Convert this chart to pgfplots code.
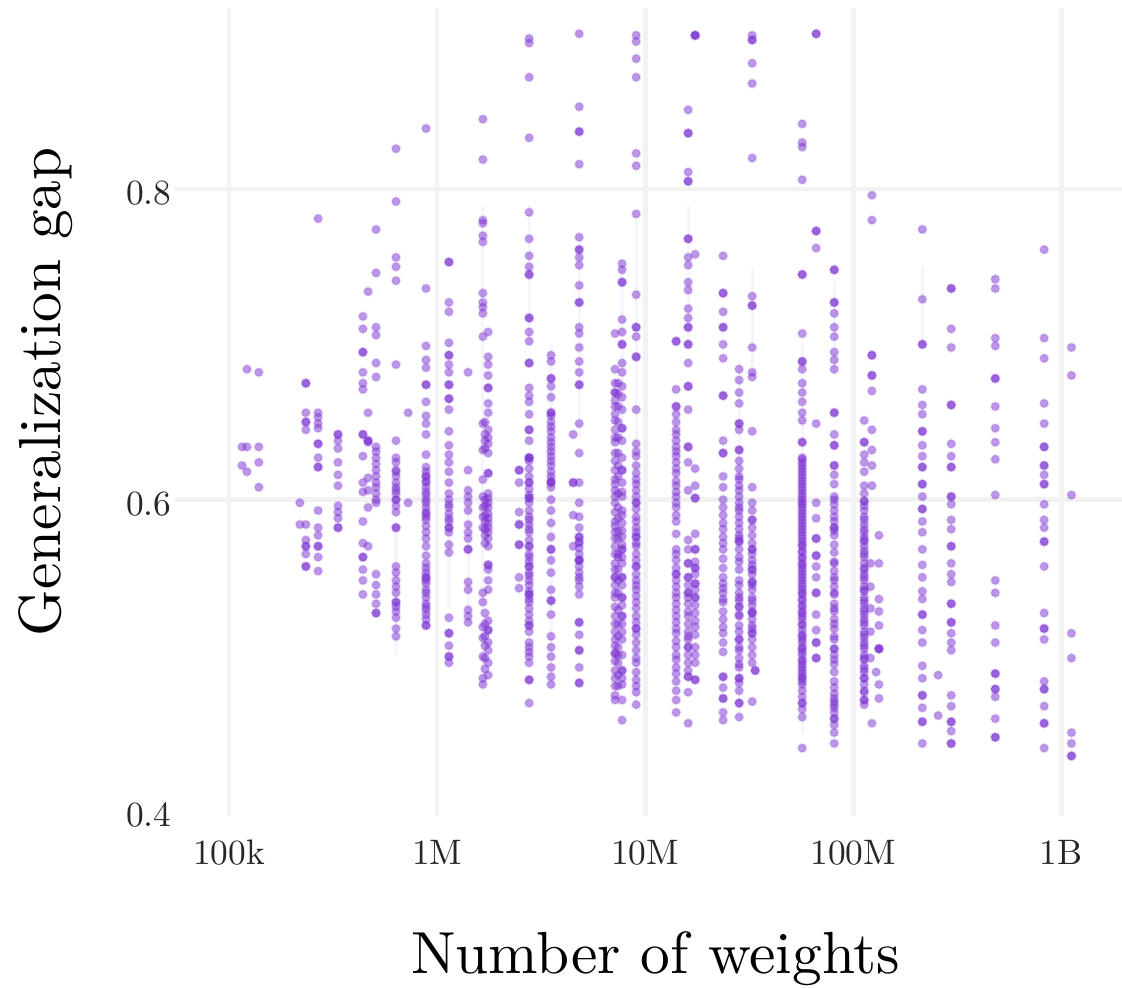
\documentclass[border=0pt]{standalone}
\usepackage{pgfplots}
\pgfplotsset{compat=1.18}
\definecolor{pt}{RGB}{122,48,208}
\definecolor{gr}{RGB}{242,242,242}
\pgfplotsset{pts/.style={only marks,mark=*,mark size=2.1pt,mark options={fill=pt,fill opacity=.5,draw=pt,draw opacity=.14,line width=1pt}}}
\begin{document}
\begin{tikzpicture}
\useasboundingbox (-87.5pt,-85.5pt) rectangle (473.5pt,408pt);
\begin{axis}[
  at={(0pt,0pt)},anchor=south west,scale only axis,
  width=473.5pt,height=404pt,
  xmode=log,log basis x=10,
  xmin=5.50e4,xmax=1.96e9,ymin=0.3963,ymax=0.9166,
  xtick={1e5,1e6,1e7,1e8,1e9},xticklabels={100k,1M,10M,100M,1B},
  ytick={0.6,0.8},yticklabels={0.6,0.8},
  extra y ticks={0.4},extra y tick labels={0.4},extra y tick style={grid=none},
  minor tick num=0,
  grid=major,major grid style={line width=2.4pt,color=gr},
  axis line style={draw=none},tick style={draw=none},
  xticklabel style={scale=1.77,color=black!85,yshift=-3.3pt},
  yticklabel style={scale=1.77,color=black!85,xshift=2.5pt,yshift=-1.2pt},
  xlabel={Number of weights},ylabel={Generalization gap},
  every axis x label/.style={at={(axis description cs:0.5075,-0.176)},anchor=center,scale=2.97},
  every axis y label/.style={at={(axis description cs:-0.137,0.525)},anchor=center,rotate=90,scale=2.97},
]
\addplot[pt,opacity=.05,line width=1.6pt,unbounded coords=jump] coordinates {
(4.82e6,.77)(4.82e6,.64)(4.82e6,nan)(2.77e6,.79)(2.77e6,.70)(2.77e6,nan)(7.75e6,.75)(7.75e6,.65)(7.75e6,nan)
(1.61e7,.79)(1.61e7,.70)(1.61e7,nan)(3.27e7,.75)(3.27e7,.68)(3.27e7,nan)(8.11e7,.74)(8.11e7,.68)(8.11e7,nan)
(2.15e8,.75)(2.15e8,.70)(2.15e8,nan)(1.41e6,.61)(1.41e6,.52)(1.41e6,nan)(6.35e5,.58)(6.35e5,.50)(6.35e5,nan)
(1.14e6,.58)(1.14e6,.53)(1.14e6,nan)(5.69e7,.70)(5.69e7,.45)(5.69e7,nan)(9.06e6,.78)(9.06e6,.47)(9.06e6,nan)
(3.53e6,.70)(3.53e6,.48)(3.53e6,nan)(2.83e7,.69)(2.83e7,.46)(2.83e7,nan)(1.66e6,.79)(1.66e6,.48)(1.66e6,nan)
};
\addplot[pts] coordinates {
(3.53e6,.654)(3.53e6,.650)(3.53e6,.644)(3.53e6,.637)(3.53e6,.631)(3.53e6,.625)(3.53e6,.618)(3.53e6,.612)(3.53e6,.608)
(8.85e5,.612)(8.85e5,.608)(8.85e5,.603)(8.85e5,.598)(8.85e5,.592)(8.85e5,.589)(8.85e5,.583)(8.85e5,.579)(8.85e5,.556)(8.85e5,.553)(8.85e5,.548)(8.85e5,.546)(8.85e5,.540)(8.85e5,.531)(8.85e5,.526)(8.85e5,.523)
(1.14e6,.611)(1.14e6,.597)(1.14e6,.591)(1.14e6,.586)
(1.70e6,.600)(1.70e6,.596)(1.70e6,.590)(1.70e6,.586)(1.70e6,.581)(1.70e6,.577)(1.70e6,.572)(1.70e6,.527)(1.70e6,.520)(1.70e6,.512)(1.70e6,.506)(1.70e6,.498)(1.70e6,.491)(1.70e6,.650)(1.70e6,.642)(1.70e6,.638)(1.70e6,.633)
(2.77e6,.625)(2.77e6,.620)(2.77e6,.615)(2.77e6,.607)(2.77e6,.603)(2.77e6,.593)(2.77e6,.587)(2.77e6,.581)(2.77e6,.574)(2.77e6,.565)(2.77e6,.560)(2.77e6,.551)(2.77e6,.545)(2.77e6,.541)(2.77e6,.536)(2.77e6,.530)(2.77e6,.522)(2.77e6,.515)(2.77e6,.508)(2.77e6,.502)
(4.82e6,.573)(4.82e6,.569)(4.82e6,.565)(4.82e6,.553)(4.82e6,.548)
(7.17e6,.660)(7.17e6,.655)(7.17e6,.645)(7.17e6,.640)(7.17e6,.630)(7.17e6,.625)(7.17e6,.610)(7.17e6,.602)(7.17e6,.592)(7.17e6,.583)(7.17e6,.575)(7.17e6,.565)(7.17e6,.555)(7.17e6,.545)(7.17e6,.540)(7.17e6,.531)(7.17e6,.520)(7.17e6,.510)(7.17e6,.506)(7.17e6,.496)(7.17e6,.485)(7.17e6,.480)
(7.41e6,.675)(7.41e6,.668)(7.41e6,.660)(7.41e6,.650)(7.41e6,.640)(7.41e6,.630)(7.41e6,.622)(7.41e6,.588)(7.41e6,.575)(7.41e6,.565)(7.41e6,.548)(7.41e6,.540)(7.41e6,.520)(7.41e6,.512)(7.41e6,.500)(7.41e6,.487)(7.41e6,.480)
(7.75e6,.605)(7.75e6,.590)(7.75e6,.580)(7.75e6,.571)(7.75e6,.563)(7.75e6,.545)(7.75e6,.532)(7.75e6,.520)(7.75e6,.510)(7.75e6,.500)(7.75e6,.485)
(9.06e6,.628)(9.06e6,.617)(9.06e6,.610)(9.06e6,.602)(9.06e6,.594)(9.06e6,.586)(9.06e6,.579)(9.06e6,.572)(9.06e6,.565)(9.06e6,.552)(9.06e6,.545)(9.06e6,.538)(9.06e6,.530)(9.06e6,.521)(9.06e6,.513)(9.06e6,.503)(9.06e6,.489)(9.06e6,.484)(9.06e6,.480)
(1.41e7,.655)(1.41e7,.642)(1.41e7,.634)(1.41e7,.628)(1.41e7,.620)(1.41e7,.612)(1.41e7,.605)(1.41e7,.598)(1.41e7,.590)(1.41e7,.578)(1.41e7,.565)(1.41e7,.556)(1.41e7,.548)(1.41e7,.540)(1.41e7,.533)(1.41e7,.525)(1.41e7,.517)(1.41e7,.509)(1.41e7,.500)(1.41e7,.492)(1.41e7,.483)(1.41e7,.471)
(1.61e7,.545)(1.61e7,.537)(1.61e7,.528)(1.61e7,.520)(1.61e7,.515)(1.61e7,.510)(1.61e7,.500)(1.61e7,.490)
(1.74e7,.560)(1.74e7,.552)(1.74e7,.542)(1.74e7,.532)(1.74e7,.522)(1.74e7,.513)(1.74e7,.500)(1.74e7,.495)
(2.37e7,.595)(2.37e7,.585)(2.37e7,.572)(2.37e7,.562)(2.37e7,.550)(2.37e7,.543)(2.37e7,.536)(2.37e7,.528)(2.37e7,.518)(2.37e7,.508)
(2.83e7,.625)(2.83e7,.615)(2.83e7,.595)(2.83e7,.575)(2.83e7,.560)(2.83e7,.545)(2.83e7,.535)(2.83e7,.525)(2.83e7,.505)(2.83e7,.494)(2.83e7,.482)
(3.27e7,.565)(3.27e7,.555)(3.27e7,.545)(3.27e7,.535)(3.27e7,.528)(3.27e7,.517)(3.27e7,.505)(3.27e7,.495)
(5.69e7,.622)(5.69e7,.614)(5.69e7,.606)(5.69e7,.598)(5.69e7,.591)(5.69e7,.583)(5.69e7,.575)(5.69e7,.567)(5.69e7,.559)(5.69e7,.552)(5.69e7,.544)(5.69e7,.536)(5.69e7,.528)(5.69e7,.520)(5.69e7,.513)(5.69e7,.505)(5.69e7,.497)(5.69e7,.490)(5.69e7,.483)(5.69e7,.477)(5.69e7,.473)(5.69e7,.465)
(8.11e7,.610)(8.11e7,.600)(8.11e7,.580)(8.11e7,.560)(8.11e7,.550)(8.11e7,.540)(8.11e7,.530)(8.11e7,.520)(8.11e7,.510)(8.11e7,.500)(8.11e7,.497)(8.11e7,.470)(8.11e7,.466)
(1.13e8,.618)(1.13e8,.604)(1.13e8,.596)(1.13e8,.587)(1.13e8,.581)(1.13e8,.574)(1.13e8,.565)(1.13e8,.556)(1.13e8,.550)(1.13e8,.542)(1.13e8,.535)(1.13e8,.528)(1.13e8,.521)(1.13e8,.513)(1.13e8,.506)(1.13e8,.498)(1.13e8,.491)(1.13e8,.481)(1.13e8,.476)(1.13e8,.468)
(6.35e5,.618)(6.35e5,.606)(6.35e5,.600)(6.35e5,.592)(6.35e5,.548)(6.35e5,.540)(6.35e5,.528)
};
\addplot[pts] coordinates {
(1.155e5,.634)(1.155e5,.622)(1.22e5,.684)(1.22e5,.634)(1.22e5,.618)(1.39e5,.682)(1.39e5,.634)(1.39e5,.624)(1.39e5,.608)
(2.19e5,.598)(2.19e5,.584)(2.34e5,.675)(2.34e5,.675)(2.34e5,.656)(2.34e5,.650)(2.34e5,.650)(2.34e5,.645)(2.34e5,.584)(2.34e5,.574)(2.34e5,.570)(2.34e5,.570)(2.34e5,.565)(2.34e5,.557)(2.34e5,.557)
(2.68e5,.781)(2.68e5,.656)(2.68e5,.653)(2.68e5,.649)(2.68e5,.646)(2.68e5,.636)(2.68e5,.636)(2.68e5,.627)(2.68e5,.621)(2.68e5,.621)(2.68e5,.593)(2.68e5,.582)(2.68e5,.577)(2.68e5,.570)(2.68e5,.570)(2.68e5,.563)(2.68e5,.554)
(3.34e5,.642)(3.34e5,.642)(3.34e5,.638)(3.34e5,.633)(3.34e5,.624)(3.34e5,.616)(3.34e5,.609)(3.34e5,.596)(3.34e5,.592)(3.34e5,.588)(3.34e5,.582)(3.34e5,.582)
(4.40e5,.718)(4.40e5,.710)(4.40e5,.695)(4.40e5,.695)(4.40e5,.682)(4.40e5,.675)(4.40e5,.671)(4.40e5,.642)(4.40e5,.642)(4.40e5,.628)(4.40e5,.611)(4.40e5,.605)(4.40e5,.586)(4.40e5,.572)(4.40e5,.563)(4.40e5,.563)(4.40e5,.555)(4.40e5,.548)(4.40e5,.539)
(4.66e5,.734)(4.66e5,.656)(4.66e5,.638)(4.66e5,.638)(4.66e5,.637)(4.66e5,.614)(4.66e5,.606)(4.66e5,.595)(4.66e5,.570)
(5.09e5,.774)(5.09e5,.746)(5.09e5,.711)(5.09e5,.706)(5.09e5,.688)(5.09e5,.679)(5.09e5,.634)(5.09e5,.631)(5.09e5,.627)(5.09e5,.623)(5.09e5,.619)(5.09e5,.615)(5.09e5,.611)(5.09e5,.608)(5.09e5,.604)(5.09e5,.600)(5.09e5,.598)(5.09e5,.552)(5.09e5,.545)(5.09e5,.539)(5.09e5,.533)(5.09e5,.527)(5.09e5,.527)
(6.35e5,.826)(6.35e5,.792)(6.35e5,.756)(6.35e5,.750)(6.35e5,.741)(6.35e5,.687)(6.35e5,.638)(6.35e5,.627)(6.35e5,.624)(6.35e5,.619)(6.35e5,.615)(6.35e5,.611)(6.35e5,.608)(6.35e5,.604)(6.35e5,.600)(6.35e5,.596)(6.35e5,.582)(6.35e5,.582)(6.35e5,.557)(6.35e5,.553)(6.35e5,.544)(6.35e5,.534)(6.35e5,.534)(6.35e5,.531)(6.35e5,.524)(6.35e5,.517)(6.35e5,.512)
(7.26e5,.656)(7.26e5,.598)
(8.85e5,.839)(8.85e5,.736)(8.85e5,.699)(8.85e5,.690)(8.85e5,.685)(8.85e5,.674)(8.85e5,.674)(8.85e5,.663)(8.85e5,.654)(8.85e5,.649)(8.85e5,.642)(8.85e5,.629)(8.85e5,.621)(8.85e5,.618)(8.85e5,.615)(8.85e5,.615)(8.85e5,.611)(8.85e5,.605)(8.85e5,.600)(8.85e5,.595)(8.85e5,.591)(8.85e5,.587)(8.85e5,.575)(8.85e5,.570)(8.85e5,.564)(8.85e5,.559)(8.85e5,.550)(8.85e5,.550)(8.85e5,.542)(8.85e5,.537)(8.85e5,.533)(8.85e5,.529)(8.85e5,.519)(8.85e5,.519)
(1.14e6,.753)(1.14e6,.753)(1.14e6,.727)(1.14e6,.721)(1.14e6,.701)(1.14e6,.693)(1.14e6,.693)(1.14e6,.687)(1.14e6,.682)(1.14e6,.674)(1.14e6,.674)(1.14e6,.665)(1.14e6,.665)(1.14e6,.658)(1.14e6,.644)(1.14e6,.635)(1.14e6,.629)(1.14e6,.624)(1.14e6,.618)(1.14e6,.604)(1.14e6,.600)(1.14e6,.595)(1.14e6,.588)(1.14e6,.582)(1.14e6,.582)(1.14e6,.579)(1.14e6,.571)(1.14e6,.566)(1.14e6,.524)(1.14e6,.514)(1.14e6,.514)(1.14e6,.506)(1.14e6,.499)(1.14e6,.499)(1.14e6,.495)
(1.41e6,.682)(1.41e6,.619)(1.41e6,.606)(1.41e6,.602)(1.41e6,.598)(1.41e6,.593)(1.41e6,.584)(1.41e6,.579)(1.41e6,.575)(1.41e6,.568)(1.41e6,.568)(1.41e6,.547)(1.41e6,.542)(1.41e6,.529)(1.41e6,.525)(1.41e6,.521)
(1.66e6,.845)(1.66e6,.819)(1.66e6,.780)(1.66e6,.778)(1.66e6,.770)(1.66e6,.766)(1.66e6,.733)(1.66e6,.727)(1.66e6,.724)(1.66e6,.720)(1.66e6,.705)(1.66e6,.649)(1.66e6,.632)(1.66e6,.613)(1.66e6,.602)(1.66e6,.595)(1.66e6,.589)(1.66e6,.582)(1.66e6,.540)(1.66e6,.534)(1.66e6,.518)(1.66e6,.511)(1.66e6,.499)(1.66e6,.485)(1.66e6,.481)
(1.76e6,.708)(1.76e6,.692)(1.76e6,.687)(1.76e6,.680)(1.76e6,.672)(1.76e6,.672)(1.76e6,.662)(1.76e6,.656)(1.76e6,.645)(1.76e6,.640)(1.76e6,.636)(1.76e6,.630)(1.76e6,.617)(1.76e6,.617)(1.76e6,.604)(1.76e6,.601)(1.76e6,.598)(1.76e6,.595)(1.76e6,.591)(1.76e6,.588)(1.76e6,.585)(1.76e6,.582)(1.76e6,.579)(1.76e6,.575)(1.76e6,.570)(1.76e6,.558)(1.76e6,.558)(1.76e6,.555)(1.76e6,.548)(1.76e6,.542)(1.76e6,.522)(1.76e6,.516)(1.76e6,.516)(1.76e6,.508)(1.76e6,.503)(1.76e6,.495)(1.76e6,.487)
(2.48e6,.619)(2.48e6,.619)(2.48e6,.611)(2.48e6,.592)(2.48e6,.584)(2.48e6,.584)(2.48e6,.571)(2.48e6,.571)(2.48e6,.550)(2.48e6,.543)
(2.77e6,.897)(2.77e6,.894)(2.77e6,.872)(2.77e6,.833)(2.77e6,.785)(2.77e6,.768)(2.77e6,.757)(2.77e6,.750)(2.77e6,.745)(2.77e6,.745)(2.77e6,.717)(2.77e6,.717)(2.77e6,.708)(2.77e6,.702)(2.77e6,.688)(2.77e6,.688)(2.77e6,.672)(2.77e6,.667)(2.77e6,.663)(2.77e6,.655)(2.77e6,.645)(2.77e6,.645)(2.77e6,.638)(2.77e6,.627)(2.77e6,.627)(2.77e6,.627)(2.77e6,.611)(2.77e6,.611)(2.77e6,.601)(2.77e6,.601)(2.77e6,.598)(2.77e6,.589)(2.77e6,.584)(2.77e6,.579)(2.77e6,.570)(2.77e6,.570)(2.77e6,.563)(2.77e6,.557)(2.77e6,.557)(2.77e6,.553)(2.77e6,.548)(2.77e6,.539)(2.77e6,.539)(2.77e6,.534)(2.77e6,.526)(2.77e6,.519)(2.77e6,.519)(2.77e6,.505)(2.77e6,.499)(2.77e6,.495)(2.77e6,.484)(2.77e6,.484)(2.77e6,.469)
(3.53e6,.693)(3.53e6,.689)(3.53e6,.678)(3.53e6,.678)(3.53e6,.673)(3.53e6,.666)(3.53e6,.656)(3.53e6,.656)(3.53e6,.647)(3.53e6,.640)(3.53e6,.634)(3.53e6,.628)(3.53e6,.622)(3.53e6,.615)(3.53e6,.611)(3.53e6,.611)(3.53e6,.600)(3.53e6,.593)(3.53e6,.585)(3.53e6,.576)(3.53e6,.568)(3.53e6,.568)(3.53e6,.561)(3.53e6,.553)(3.53e6,.542)(3.53e6,.535)(3.53e6,.535)(3.53e6,.526)(3.53e6,.512)(3.53e6,.505)(3.53e6,.499)(3.53e6,.492)(3.53e6,.486)(3.53e6,.481)
(4.51e6,.642)(4.51e6,.611)(4.51e6,.611)(4.51e6,.590)(4.51e6,.570)
(4.82e6,.900)(4.82e6,.853)(4.82e6,.837)(4.82e6,.837)(4.82e6,.816)(4.82e6,.769)(4.82e6,.761)(4.82e6,.761)(4.82e6,.756)(4.82e6,.751)(4.82e6,.738)(4.82e6,.727)(4.82e6,.727)(4.82e6,.711)(4.82e6,.707)(4.82e6,.698)(4.82e6,.689)(4.82e6,.682)(4.82e6,.674)(4.82e6,.674)(4.82e6,.649)(4.82e6,.630)(4.82e6,.611)(4.82e6,.598)(4.82e6,.589)(4.82e6,.582)(4.82e6,.576)(4.82e6,.576)(4.82e6,.572)(4.82e6,.561)(4.82e6,.561)(4.82e6,.561)(4.82e6,.557)(4.82e6,.550)(4.82e6,.544)(4.82e6,.539)(4.82e6,.521)(4.82e6,.521)(4.82e6,.513)(4.82e6,.503)(4.82e6,.503)(4.82e6,.492)(4.82e6,.482)(4.82e6,.482)
(7.17e6,.707)(7.17e6,.684)(7.17e6,.675)(7.17e6,.669)(7.17e6,.669)(7.17e6,.664)(7.17e6,.651)(7.17e6,.637)(7.17e6,.619)(7.17e6,.613)(7.17e6,.606)(7.17e6,.598)(7.17e6,.586)(7.17e6,.579)(7.17e6,.570)(7.17e6,.559)(7.17e6,.550)(7.17e6,.550)(7.17e6,.537)(7.17e6,.525)(7.17e6,.515)(7.17e6,.501)(7.17e6,.501)(7.17e6,.490)(7.17e6,.474)(7.17e6,.471)
(7.75e6,.752)(7.75e6,.748)(7.75e6,.740)(7.75e6,.740)(7.75e6,.716)(7.75e6,.708)(7.75e6,.700)(7.75e6,.700)(7.75e6,.688)(7.75e6,.682)(7.75e6,.673)(7.75e6,.666)(7.75e6,.658)(7.75e6,.646)(7.75e6,.646)(7.75e6,.638)(7.75e6,.627)(7.75e6,.619)(7.75e6,.619)(7.75e6,.611)(7.75e6,.602)(7.75e6,.593)(7.75e6,.585)(7.75e6,.576)(7.75e6,.568)(7.75e6,.568)(7.75e6,.559)(7.75e6,.550)(7.75e6,.550)(7.75e6,.537)(7.75e6,.537)(7.75e6,.525)(7.75e6,.525)(7.75e6,.515)(7.75e6,.490)(7.75e6,.490)(7.75e6,.481)(7.75e6,.471)(7.75e6,.458)
(7.41e6,.615)(7.41e6,.604)(7.41e6,.595)(7.41e6,.580)(7.41e6,.563)(7.41e6,.555)(7.41e6,.529)(7.41e6,.505)(7.41e6,.495)
(9.06e6,.899)(9.06e6,.895)(9.06e6,.884)(9.06e6,.872)(9.06e6,.823)(9.06e6,.815)(9.06e6,.784)(9.06e6,.732)(9.06e6,.711)(9.06e6,.711)(9.06e6,.705)(9.06e6,.692)(9.06e6,.692)(9.06e6,.658)(9.06e6,.636)(9.06e6,.631)(9.06e6,.622)(9.06e6,.613)(9.06e6,.606)(9.06e6,.598)(9.06e6,.598)(9.06e6,.589)(9.06e6,.582)(9.06e6,.576)(9.06e6,.576)(9.06e6,.570)(9.06e6,.561)(9.06e6,.557)(9.06e6,.557)(9.06e6,.548)(9.06e6,.542)(9.06e6,.534)(9.06e6,.525)(9.06e6,.517)(9.06e6,.517)(9.06e6,.508)(9.06e6,.498)(9.06e6,.495)(9.06e6,.476)(9.06e6,.468)
(1.41e7,.702)(1.41e7,.702)(1.41e7,.671)(1.41e7,.660)(1.41e7,.660)(1.41e7,.650)(1.41e7,.645)(1.41e7,.638)(1.41e7,.631)(1.41e7,.624)(1.41e7,.617)(1.41e7,.609)(1.41e7,.602)(1.41e7,.595)(1.41e7,.586)(1.41e7,.568)(1.41e7,.561)(1.41e7,.552)(1.41e7,.552)(1.41e7,.544)(1.41e7,.537)(1.41e7,.529)(1.41e7,.521)(1.41e7,.514)(1.41e7,.505)(1.41e7,.497)(1.41e7,.488)(1.41e7,.477)(1.41e7,.463)
(1.61e7,.851)(1.61e7,.836)(1.61e7,.836)(1.61e7,.811)(1.61e7,.805)(1.61e7,.805)(1.61e7,.768)(1.61e7,.768)(1.61e7,.756)(1.61e7,.751)(1.61e7,.740)(1.61e7,.735)(1.61e7,.723)(1.61e7,.717)(1.61e7,.711)(1.61e7,.711)(1.61e7,.700)(1.61e7,.700)(1.61e7,.688)(1.61e7,.673)(1.61e7,.673)(1.61e7,.658)(1.61e7,.634)(1.61e7,.634)(1.61e7,.624)(1.61e7,.606)(1.61e7,.574)(1.61e7,.568)(1.61e7,.559)(1.61e7,.559)(1.61e7,.550)(1.61e7,.550)(1.61e7,.540)(1.61e7,.540)(1.61e7,.533)(1.61e7,.525)(1.61e7,.512)(1.61e7,.505)(1.61e7,.505)(1.61e7,.495)(1.61e7,.486)(1.61e7,.486)(1.61e7,.476)(1.61e7,.456)
(1.74e7,.899)(1.74e7,.899)(1.74e7,.899)(1.74e7,.758)(1.74e7,.620)(1.74e7,.609)(1.74e7,.601)(1.74e7,.601)(1.74e7,.578)(1.74e7,.568)(1.74e7,.568)(1.74e7,.556)(1.74e7,.556)(1.74e7,.546)(1.74e7,.546)(1.74e7,.537)(1.74e7,.537)(1.74e7,.527)(1.74e7,.518)(1.74e7,.505)(1.74e7,.484)(1.74e7,.484)
(2.37e7,.757)(2.37e7,.733)(2.37e7,.733)(2.37e7,.721)(2.37e7,.711)(2.37e7,.711)(2.37e7,.700)(2.37e7,.691)(2.37e7,.667)(2.37e7,.667)(2.37e7,.638)(2.37e7,.630)(2.37e7,.630)(2.37e7,.615)(2.37e7,.608)(2.37e7,.600)(2.37e7,.590)(2.37e7,.581)(2.37e7,.576)(2.37e7,.568)(2.37e7,.556)(2.37e7,.546)(2.37e7,.540)(2.37e7,.534)(2.37e7,.523)(2.37e7,.514)(2.37e7,.502)(2.37e7,.486)(2.37e7,.486)(2.37e7,.479)(2.37e7,.472)(2.37e7,.472)(2.37e7,.463)(2.37e7,.458)
(2.83e7,.684)(2.83e7,.677)(2.83e7,.669)(2.83e7,.662)(2.83e7,.649)(2.83e7,.649)(2.83e7,.645)(2.83e7,.632)(2.83e7,.632)(2.83e7,.620)(2.83e7,.613)(2.83e7,.606)(2.83e7,.598)(2.83e7,.589)(2.83e7,.581)(2.83e7,.573)(2.83e7,.573)(2.83e7,.563)(2.83e7,.555)(2.83e7,.540)(2.83e7,.531)(2.83e7,.531)(2.83e7,.519)(2.83e7,.510)(2.83e7,.510)(2.83e7,.498)(2.83e7,.492)(2.83e7,.485)(2.83e7,.485)(2.83e7,.477)(2.83e7,.469)(2.83e7,.469)(2.83e7,.460)(2.83e7,.609)(2.83e7,.602)(2.83e7,.593)(2.83e7,.585)(2.83e7,.577)(2.83e7,.568)(2.83e7,.548)(2.83e7,.537)(2.83e7,.526)(2.83e7,.515)(2.83e7,.503)
(3.27e7,.899)(3.27e7,.896)(3.27e7,.896)(3.27e7,.881)(3.27e7,.868)(3.27e7,.820)(3.27e7,.731)(3.27e7,.725)(3.27e7,.725)(3.27e7,.698)(3.27e7,.682)(3.27e7,.679)(3.27e7,.644)(3.27e7,.608)(3.27e7,.598)(3.27e7,.587)(3.27e7,.587)(3.27e7,.577)(3.27e7,.568)(3.27e7,.568)(3.27e7,.561)(3.27e7,.555)(3.27e7,.547)(3.27e7,.547)(3.27e7,.537)(3.27e7,.527)(3.27e7,.527)(3.27e7,.514)(3.27e7,.514)(3.27e7,.500)(3.27e7,.470)(3.27e7,.593)(3.27e7,.582)(3.27e7,.572)(3.27e7,.558)(3.27e7,.552)(3.27e7,.542)(3.27e7,.532)(3.27e7,.523)(3.27e7,.519)(3.27e7,.510)(3.38e7,.490)(3.38e7,.490)
(5.69e7,.842)(5.69e7,.830)(5.69e7,.827)(5.69e7,.806)(5.69e7,.745)(5.69e7,.745)(5.69e7,.707)(5.69e7,.689)(5.69e7,.689)(5.69e7,.684)(5.69e7,.675)(5.69e7,.669)(5.69e7,.663)(5.69e7,.656)(5.69e7,.651)(5.69e7,.637)(5.69e7,.637)
(5.69e7,.627)(5.69e7,.624)(5.69e7,.620)(5.69e7,.616)(5.69e7,.612)(5.69e7,.608)(5.69e7,.604)(5.69e7,.600)(5.69e7,.597)(5.69e7,.593)(5.69e7,.589)(5.69e7,.585)(5.69e7,.581)(5.69e7,.577)(5.69e7,.573)(5.69e7,.570)(5.69e7,.566)(5.69e7,.562)(5.69e7,.558)(5.69e7,.554)(5.69e7,.550)(5.69e7,.546)(5.69e7,.542)(5.69e7,.539)(5.69e7,.535)(5.69e7,.531)(5.69e7,.527)(5.69e7,.523)(5.69e7,.519)(5.69e7,.516)(5.69e7,.512)(5.69e7,.508)(5.69e7,.504)(5.69e7,.500)(5.69e7,.496)(5.69e7,.492)(5.69e7,.488)(5.69e7,.485)(5.69e7,.481)(5.69e7,.469)(5.69e7,.469)(5.69e7,.460)(5.69e7,.440)
(5.69e7,.626)(5.69e7,.618)(5.69e7,.610)(5.69e7,.602)(5.69e7,.595)(5.69e7,.587)(5.69e7,.579)(5.69e7,.571)(5.69e7,.563)(5.69e7,.556)(5.69e7,.548)(5.69e7,.540)(5.69e7,.532)(5.69e7,.525)(5.69e7,.510)(5.69e7,.502)(5.69e7,.494)(5.69e7,.486)
(6.64e7,.900)(6.64e7,.900)(6.64e7,.773)(6.64e7,.773)(6.64e7,.762)(6.64e7,.649)(6.64e7,.598)(6.64e7,.588)(6.64e7,.575)(6.64e7,.575)(6.64e7,.564)(6.64e7,.564)(6.64e7,.557)(6.64e7,.550)(6.64e7,.540)(6.64e7,.540)(6.64e7,.526)(6.64e7,.516)(6.64e7,.508)(6.64e7,.508)(6.64e7,.498)(6.64e7,.498)
(8.11e7,.748)(8.11e7,.748)(8.11e7,.727)(8.11e7,.727)(8.11e7,.720)(8.11e7,.711)(8.11e7,.705)(8.11e7,.695)(8.11e7,.690)(8.11e7,.684)(8.11e7,.656)(8.11e7,.656)(8.11e7,.642)(8.11e7,.635)(8.11e7,.635)(8.11e7,.622)(8.11e7,.622)(8.11e7,.616)(8.11e7,.602)(8.11e7,.597)(8.11e7,.589)(8.11e7,.582)(8.11e7,.582)(8.11e7,.571)(8.11e7,.559)(8.11e7,.548)(8.11e7,.539)(8.11e7,.528)(8.11e7,.517)(8.11e7,.504)(8.11e7,.504)(8.11e7,.494)(8.11e7,.483)(8.11e7,.475)(8.11e7,.468)(8.11e7,.459)(8.11e7,.459)(8.11e7,.450)(8.11e7,.443)(8.11e7,.593)(8.11e7,.586)(8.11e7,.577)(8.11e7,.566)(8.11e7,.554)(8.11e7,.544)(8.11e7,.533)(8.11e7,.523)(8.11e7,.512)(8.11e7,.489)(8.11e7,.479)(8.11e7,.472)(8.11e7,.463)(8.11e7,.455)
(1.13e8,.651)(1.13e8,.637)(1.13e8,.637)(1.13e8,.629)(1.13e8,.624)(1.13e8,.609)(1.13e8,.599)(1.13e8,.599)(1.13e8,.589)(1.13e8,.579)(1.13e8,.573)(1.13e8,.567)(1.13e8,.559)(1.13e8,.552)(1.13e8,.544)(1.13e8,.537)(1.13e8,.530)(1.13e8,.523)(1.13e8,.515)(1.13e8,.508)(1.13e8,.500)(1.13e8,.493)(1.13e8,.485)(1.13e8,.485)(1.13e8,.471)(1.13e8,.471)(1.13e8,.593)(1.13e8,.584)(1.13e8,.576)(1.13e8,.570)(1.13e8,.563)(1.13e8,.555)(1.13e8,.548)(1.13e8,.541)(1.13e8,.533)(1.13e8,.526)(1.13e8,.519)(1.13e8,.511)(1.13e8,.504)(1.13e8,.497)(1.13e8,.489)(1.13e8,.477)
(1.23e8,.796)(1.23e8,.780)(1.23e8,.693)(1.23e8,.693)(1.23e8,.680)(1.23e8,.680)(1.23e8,.670)(1.23e8,.645)(1.23e8,.632)(1.23e8,.622)(1.23e8,.609)(1.23e8,.456)
(1.21e8,.559)(1.21e8,.544)(1.21e8,.530)(1.21e8,.515)(1.21e8,.498)
(1.33e8,.577)(1.33e8,.559)(1.33e8,.536)(1.33e8,.528)(1.33e8,.519)(1.33e8,.504)(1.33e8,.504)(1.33e8,.504)(1.33e8,.481)(1.33e8,.472)(1.29e8,.489)
(2.15e8,.774)(2.15e8,.729)(2.15e8,.700)(2.15e8,.700)(2.15e8,.671)(2.15e8,.661)(2.15e8,.655)(2.15e8,.644)(2.15e8,.644)(2.15e8,.635)(2.15e8,.628)(2.15e8,.621)(2.15e8,.621)(2.15e8,.610)(2.15e8,.610)(2.15e8,.602)(2.15e8,.594)(2.15e8,.594)(2.15e8,.586)(2.15e8,.579)(2.15e8,.568)(2.15e8,.558)(2.15e8,.550)(2.15e8,.541)(2.15e8,.536)(2.15e8,.526)(2.15e8,.526)(2.15e8,.516)(2.15e8,.508)(2.15e8,.493)(2.15e8,.485)(2.15e8,.474)(2.15e8,.474)(2.15e8,.466)(2.15e8,.457)(2.15e8,.457)(2.15e8,.443)
(2.56e8,.487)(2.56e8,.461)
(2.96e8,.736)(2.96e8,.736)(2.96e8,.710)(2.96e8,.698)(2.96e8,.661)(2.96e8,.661)(2.96e8,.636)(2.96e8,.628)(2.96e8,.621)(2.96e8,.621)(2.96e8,.602)(2.96e8,.602)(2.96e8,.597)(2.96e8,.587)(2.96e8,.581)(2.96e8,.570)(2.96e8,.570)(2.96e8,.559)(2.96e8,.552)(2.96e8,.547)(2.96e8,.533)(2.96e8,.533)(2.96e8,.521)(2.96e8,.521)(2.96e8,.514)(2.96e8,.508)(2.96e8,.503)(2.96e8,.474)(2.96e8,.467)(2.96e8,.457)(2.96e8,.457)(2.96e8,.451)(2.96e8,.443)(2.96e8,.443)
(4.82e8,.742)(4.82e8,.736)(4.82e8,.704)(4.82e8,.699)(4.82e8,.678)(4.82e8,.678)(4.82e8,.660)(4.82e8,.646)(4.82e8,.637)(4.82e8,.626)(4.82e8,.603)(4.82e8,.548)(4.82e8,.540)(4.82e8,.519)(4.82e8,.508)(4.82e8,.488)(4.82e8,.488)(4.82e8,.478)(4.82e8,.478)(4.82e8,.473)(4.82e8,.459)(4.82e8,.447)(4.82e8,.447)
(8.28e8,.761)(8.28e8,.704)(8.28e8,.691)(8.28e8,.662)(8.28e8,.649)(8.28e8,.634)(8.28e8,.634)(8.28e8,.622)(8.28e8,.622)(8.28e8,.616)(8.28e8,.610)(8.28e8,.610)(8.28e8,.597)(8.28e8,.587)(8.28e8,.582)(8.28e8,.573)(8.28e8,.573)(8.28e8,.557)(8.28e8,.527)(8.28e8,.517)(8.28e8,.517)(8.28e8,.510)(8.28e8,.483)(8.28e8,.478)(8.28e8,.478)(8.28e8,.467)(8.28e8,.456)(8.28e8,.456)(8.28e8,.440)
(1.12e9,.698)(1.12e9,.680)(1.12e9,.603)(1.12e9,.514)(1.12e9,.498)(1.12e9,.450)(1.12e9,.443)(1.12e9,.435)(1.12e9,.435)
};
\end{axis}
\end{tikzpicture}
\end{document}
